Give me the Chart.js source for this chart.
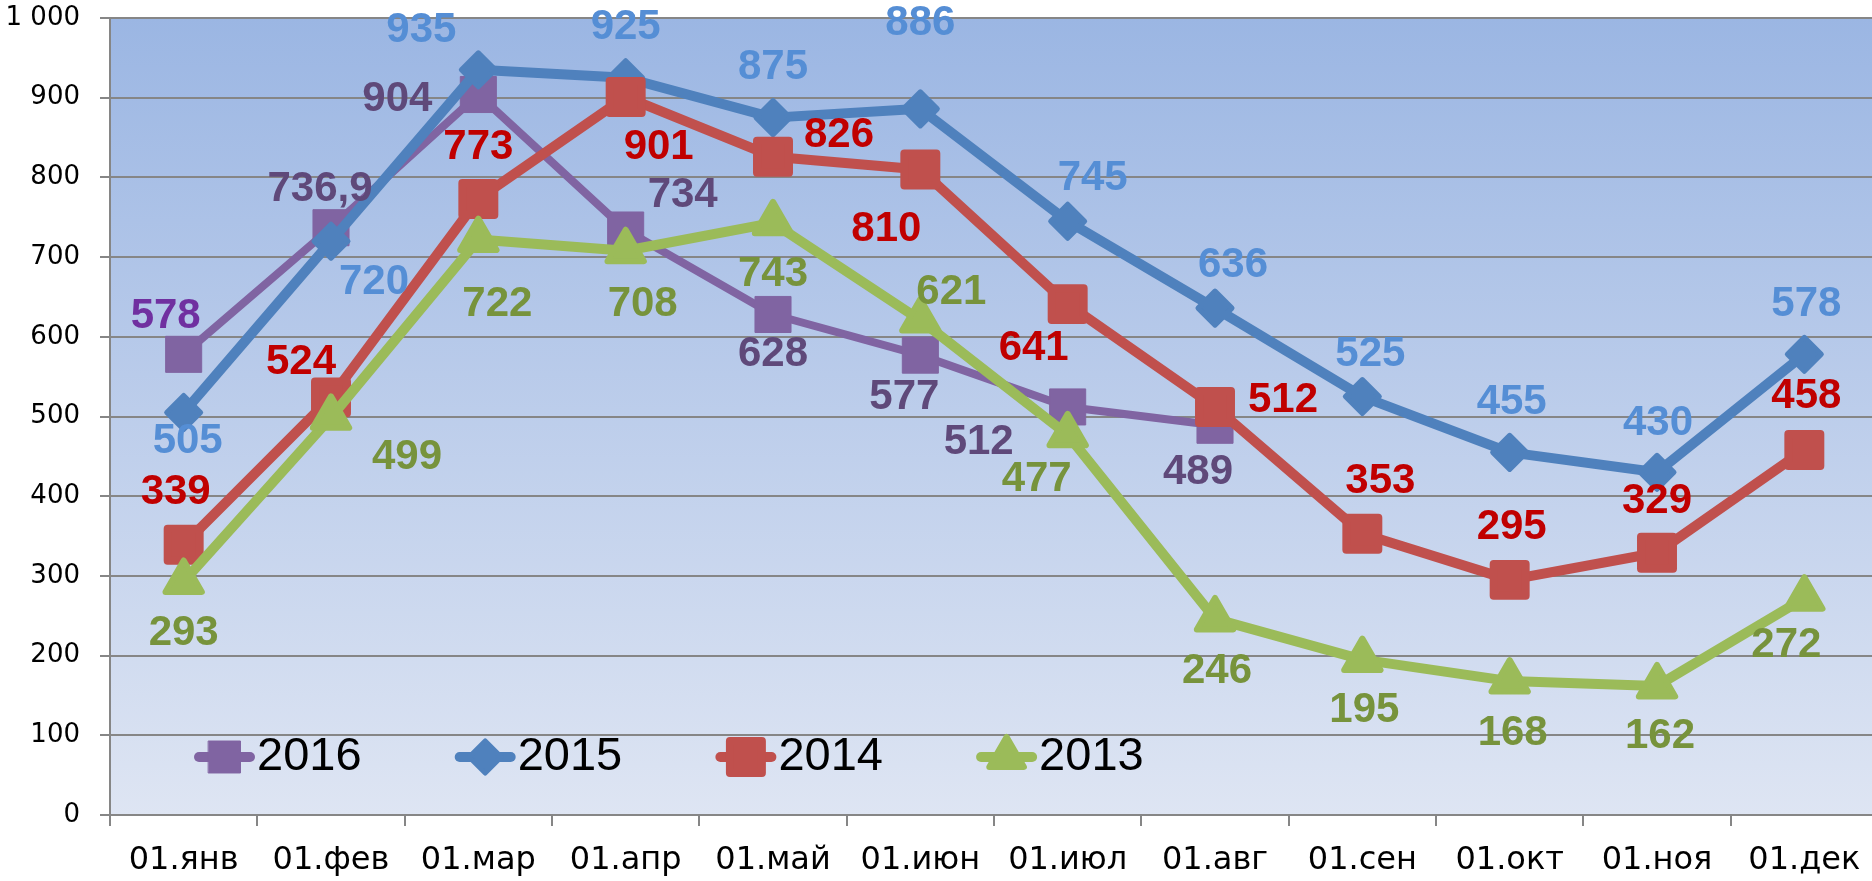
<!DOCTYPE html>
<html>
<head>
<meta charset="utf-8">
<script src="https://cdn.jsdelivr.net/npm/chart.js"></script>
<style>
html,body{margin:0;padding:0;background:#ffffff;overflow:hidden;width:1872px;height:881px}
canvas{display:block}
</style>
</head>
<body>
<canvas id="c" width="1878" height="881"></canvas>
<script>
// ---------- data ----------
const categories = ['01.янв','01.фев','01.мар','01.апр','01.май','01.июн','01.июл','01.авг','01.сен','01.окт','01.ноя','01.дек'];
const seriesNames = ['2016','2015','2014','2013'];
const values2016 = [578, 736.9, 904, 734, 628, 577, 512, 489];
const values2015 = [505, 720, 935, 925, 875, 886, 745, 636, 525, 455, 430, 578];
const values2014 = [339, 524, 773, 901, 826, 810, 641, 512, 353, 295, 329, 458];
const values2013 = [293, 499, 722, 708, 743, 621, 477, 246, 195, 168, 162, 272];
const yMin = 0, yMax = 1000, yStep = 100;

// ---------- label placement (relative offsets from each point, px) ----------
const labelShift2016 = [[-18,-38],[-11,-38],[-81,5],[57,-35],[0,40],[-16,42],[-89,35],[-17,47]];
const labelShift2015 = [[4,29],[43,41],[-57,-39],[0,-50],[0,-50],[0,-85],[25,-43],[18,-43],[8,-42],[2,-50],[1,-49],[2,-50]];
const labelShift2014 = [[-8,-52],[-30,-35],[0,-51],[33,51],[66,-21],[-34,60],[-34,44],[68,-7],[18,-52],[2,-52],[0,-51],[2,-54]];
const labelShift2013 = [[0,52],[76,40],[19,65],[17,54],[0,52],[31,-28],[-31,45],[2,52],[2,51],[3,52],[3,51],[-18,47]];

// ---------- styles ----------
const styles = [
  {color:'#8064A2', label:'#5F497A', width:8,  point:'rect',    radius:25.5, bw:1, legendRadius:22.6, firstLabel:'#7030A0'},
  {color:'#4F81BD', label:'#558ED5', width:10, point:'rectRot', radius:17,   bw:5, legendRadius:16},
  {color:'#C0504D', label:'#C00000', width:10, point:'rect',    radius:22.6, bw:8, legendRadius:22.6},
  {color:'#9BBB59', label:'#77933C', width:10, point:'triangle',radius:21,   bw:6, legendRadius:20}
];
const allValues = [values2016, values2015, values2014, values2013];
const allShifts = [labelShift2016, labelShift2015, labelShift2014, labelShift2013];

function fmtThousands(v){ return String(v).replace(/\B(?=(\d{3})+(?!\d))/g, ' '); }
function fmtLabel(v){ return String(v).replace('.', ','); }

const datasets = seriesNames.map((name, i) => ({
  label: name,
  data: allValues[i],
  order: 4 - i,
  borderColor: styles[i].color,
  backgroundColor: styles[i].color,
  borderWidth: styles[i].width,
  borderCapStyle: 'round',
  borderJoinStyle: 'round',
  tension: 0,
  fill: false,
  clip: false,
  pointStyle: styles[i].point,
  pointRadius: styles[i].radius,
  pointBorderWidth: styles[i].bw,
  pointBackgroundColor: styles[i].color,
  pointBorderColor: styles[i].color
}));

// ---------- plugins ----------
const bgPlugin = {
  id: 'plotBg',
  beforeDraw(chart){
    const {ctx, chartArea:a} = chart;
    ctx.save();
    ctx.fillStyle = '#ffffff';
    ctx.fillRect(0, 0, chart.width, chart.height);
    const g = ctx.createLinearGradient(0, a.top, 0, a.bottom);
    g.addColorStop(0, '#9BB6E3');
    g.addColorStop(1, '#DEE5F3');
    ctx.fillStyle = g;
    ctx.fillRect(a.left, a.top, a.right - a.left, a.bottom - a.top);
    ctx.restore();
  },
  beforeDatasetsDraw(chart){
    chart.ctx.lineJoin = 'round';
  }
};

const labelPlugin = {
  id: 'valueLabels',
  afterDatasetsDraw(chart){
    const ctx = chart.ctx;
    ctx.save();
    ctx.font = 'bold 42px "Liberation Sans", Arial, sans-serif';
    ctx.textAlign = 'center';
    ctx.textBaseline = 'middle';
    chart.data.datasets.forEach((ds, i) => {
      const meta = chart.getDatasetMeta(i);
      meta.data.forEach((pt, j) => {
        const v = ds.data[j];
        if (v === null || v === undefined) return;
        const sh = allShifts[i][j] || [0, -45];
        ctx.fillStyle = (j === 0 && styles[i].firstLabel) ? styles[i].firstLabel : styles[i].label;
        ctx.fillText(fmtLabel(v), pt.x + sh[0], pt.y + sh[1]);
      });
    });
    ctx.restore();
  }
};

function drawMarker(ctx, style, x, y, r, bw, color){
  ctx.save();
  ctx.fillStyle = color; ctx.strokeStyle = color; ctx.lineWidth = bw; ctx.lineJoin = 'round';
  ctx.beginPath();
  if (style === 'rect') {
    const h = r * Math.SQRT1_2;
    ctx.rect(x - h, y - h, 2*h, 2*h);
  } else if (style === 'rectRot') {
    ctx.moveTo(x - r, y); ctx.lineTo(x, y - r); ctx.lineTo(x + r, y); ctx.lineTo(x, y + r); ctx.closePath();
  } else {
    let rad = 0;
    ctx.moveTo(x + Math.sin(rad)*r, y - Math.cos(rad)*r);
    rad += 2*Math.PI/3;
    ctx.lineTo(x + Math.sin(rad)*r, y - Math.cos(rad)*r);
    rad += 2*Math.PI/3;
    ctx.lineTo(x + Math.sin(rad)*r, y - Math.cos(rad)*r);
    ctx.closePath();
  }
  ctx.fill();
  if (bw > 0) ctx.stroke();
  ctx.restore();
}

const legendPlugin = {
  id: 'innerLegend',
  afterDatasetsDraw(chart){
    const {ctx, chartArea:a} = chart;
    const startX = a.left + 84, spacing = 260.7, cy = a.bottom - 58, lineLen = 61;
    ctx.save();
    chart.data.datasets.forEach((ds, i) => {
      const x0 = startX + i * spacing;
      ctx.strokeStyle = styles[i].color;
      ctx.lineWidth = 10;
      ctx.lineCap = 'round';
      ctx.beginPath(); ctx.moveTo(x0 + 5, cy); ctx.lineTo(x0 + lineLen - 5, cy); ctx.stroke();
      drawMarker(ctx, styles[i].point, x0 + lineLen/2, cy, styles[i].legendRadius, styles[i].bw, styles[i].color);
      ctx.fillStyle = '#000000';
      ctx.font = '47px "Liberation Sans", Arial, sans-serif';
      ctx.textAlign = 'left';
      ctx.textBaseline = 'middle';
      ctx.fillText(ds.label, x0 + lineLen + 2, cy);
    });
    ctx.restore();
  }
};

// ---------- chart ----------
new Chart(document.getElementById('c').getContext('2d'), {
  type: 'line',
  data: { labels: categories, datasets },
  options: {
    responsive: false,
    animation: false,
    devicePixelRatio: 1,
    events: [],
    layout: { autoPadding: false, padding: { top: 18, left: 0, right: 0, bottom: 0 } },
    plugins: { legend: { display: false }, tooltip: { enabled: false } },
    scales: {
      x: {
        offset: true,
        grid: { display: true, drawOnChartArea: false, drawTicks: true, tickLength: 11, color: '#868686', lineWidth: 2, offset: true },
        border: { display: true, color: '#868686', width: 2 },
        ticks: { color: '#000000', font: { family: '"DejaVu Sans"', size: 32 }, padding: 15, maxRotation: 0, autoSkip: false },
        afterFit(s){ s.height = 66; s.paddingLeft = 0; s.paddingRight = 0; }
      },
      y: {
        min: yMin, max: yMax,
        ticks: { stepSize: yStep, color: '#000000', font: { family: '"DejaVu Sans"', size: 26 }, padding: 20, callback: v => fmtThousands(v) },
        grid: { color: '#868686', lineWidth: 2, tickLength: 10, drawTicks: true },
        border: { display: true, color: '#868686', width: 2 },
        afterFit(s){ s.width = 110; s.paddingTop = 0; s.paddingBottom = 0; }
      }
    }
  },
  plugins: [bgPlugin, labelPlugin, legendPlugin]
});
</script>
</body>
</html>
